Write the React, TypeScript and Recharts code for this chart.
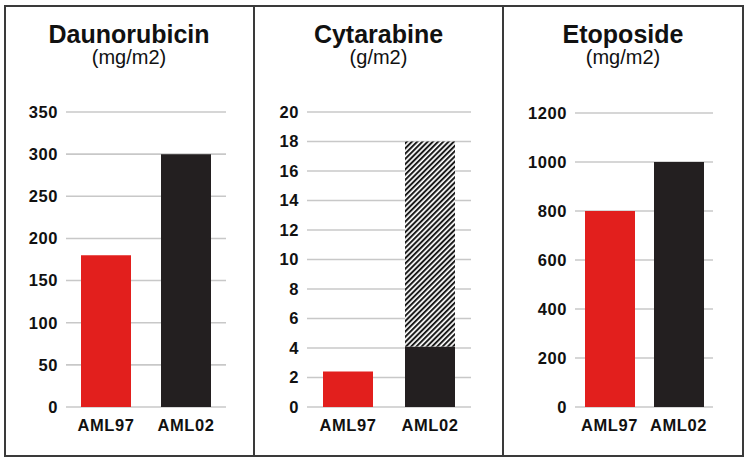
import { BarChart, Bar, XAxis, YAxis, CartesianGrid, Cell } from "recharts";

const categories = ["AML97", "AML02"];

const daunoValues = [180, 300];
const daunoTicks = [0, 50, 100, 150, 200, 250, 300, 350];

const cytaSolid = [2.4, 4.1];
const cytaTotal = [2.4, 18];
const cytaTicks = [0, 2, 4, 6, 8, 10, 12, 14, 16, 18, 20];

const etoValues = [800, 1000];
const etoTicks = [0, 200, 400, 600, 800, 1000, 1200];

const COLORS = ["#e21f1d", "#231f20"];
const FONT = "'Liberation Sans', Arial, Helvetica, sans-serif";

const daunoData = categories.map((name, i) => ({ name, value: daunoValues[i] }));
const cytaData = categories.map((name, i) => ({
  name,
  solid: cytaSolid[i],
  hatch: cytaTotal[i] - cytaSolid[i],
}));
const etoData = categories.map((name, i) => ({ name, value: etoValues[i] }));

const tickStyle = { fill: "#111", fontSize: 16.5, fontWeight: 700, fontFamily: FONT, letterSpacing: 0.6 };

const Title = ({ left, width, title, unit }: { left: number; width: number; title: string; unit: string }) => (
  <>
    <div
      style={{
        position: "absolute", left, width, top: 22, textAlign: "center",
        fontFamily: FONT, fontWeight: 700, fontSize: 25, lineHeight: "25px", color: "#111",
      }}
    >
      {title}
    </div>
    <div
      style={{
        position: "absolute", left, width, top: 47, textAlign: "center",
        fontFamily: FONT, fontSize: 20, lineHeight: "20px", color: "#111",
      }}
    >
      {unit}
    </div>
  </>
);

const App = () => {
  return (
    <div style={{ position: "absolute", left: 0, top: 0, width: 747, height: 462, background: "#fff" }}>
      <svg width={0} height={0} style={{ position: "absolute" }}>
        <defs>
          <pattern id="hatch" patternUnits="userSpaceOnUse" width={3.7} height={3.7} patternTransform="rotate(45)">
            <rect width={3.7} height={3.7} fill="#fff" />
            <rect x={0} y={0} width={2} height={3.7} fill="#1a1a1a" />
          </pattern>
        </defs>
      </svg>

      {/* frame */}
      <div style={{ position: "absolute", left: 4, top: 5, width: 736, height: 448, border: "2px solid #3a3a3a" }} />
      <div style={{ position: "absolute", left: 253, top: 5, width: 2, height: 452, background: "#3a3a3a" }} />
      <div style={{ position: "absolute", left: 502, top: 5, width: 2, height: 452, background: "#3a3a3a" }} />

      <Title left={4} width={250} title="Daunorubicin" unit="(mg/m2)" />
      <Title left={254} width={249} title="Cytarabine" unit="(g/m2)" />
      <Title left={503} width={240} title="Etoposide" unit="(mg/m2)" />

      <div style={{ position: "absolute", left: 0, top: 0 }}>
        <BarChart width={254} height={462} data={daunoData} margin={{ top: 112, right: 28, bottom: 25, left: 0 }}>
          <CartesianGrid vertical={false} stroke="#c8c8c8" strokeWidth={1.6} />
          <XAxis dataKey="name" axisLine={false} tickLine={false} height={30} tickMargin={6} tick={tickStyle} />
          <YAxis domain={[0, 350]} ticks={daunoTicks} width={66} axisLine={false} tickLine={false} tick={tickStyle} interval={0} />
          <Bar dataKey="value" barSize={50} isAnimationActive={false}>
            {daunoData.map((_, i) => (
              <Cell key={`d-${i}`} fill={COLORS[i]} />
            ))}
          </Bar>
        </BarChart>
      </div>

      <div style={{ position: "absolute", left: 254, top: 0 }}>
        <BarChart width={249} height={462} data={cytaData} margin={{ top: 112, right: 32, bottom: 25, left: 0 }}>
          <CartesianGrid vertical={false} stroke="#c8c8c8" strokeWidth={1.6} />
          <XAxis dataKey="name" axisLine={false} tickLine={false} height={30} tickMargin={6} tick={tickStyle} />
          <YAxis domain={[0, 20]} ticks={cytaTicks} width={53} axisLine={false} tickLine={false} tick={tickStyle} interval={0} />
          <Bar dataKey="solid" stackId="a" barSize={50} isAnimationActive={false}>
            {cytaData.map((_, i) => (
              <Cell key={`c-${i}`} fill={COLORS[i]} />
            ))}
          </Bar>
          <Bar dataKey="hatch" stackId="a" barSize={50} fill="url(#hatch)" isAnimationActive={false} />
        </BarChart>
      </div>

      <div style={{ position: "absolute", left: 503, top: 0 }}>
        <BarChart width={244} height={462} data={etoData} margin={{ top: 113, right: 34, bottom: 25, left: 0 }}>
          <CartesianGrid vertical={false} stroke="#c8c8c8" strokeWidth={1.6} />
          <XAxis dataKey="name" axisLine={false} tickLine={false} height={30} tickMargin={6} tick={tickStyle} />
          <YAxis domain={[0, 1200]} ticks={etoTicks} width={72} axisLine={false} tickLine={false} tick={tickStyle} interval={0} />
          <Bar dataKey="value" barSize={50} isAnimationActive={false}>
            {etoData.map((_, i) => (
              <Cell key={`e-${i}`} fill={COLORS[i]} />
            ))}
          </Bar>
        </BarChart>
      </div>
    </div>
  );
};

export default App;
